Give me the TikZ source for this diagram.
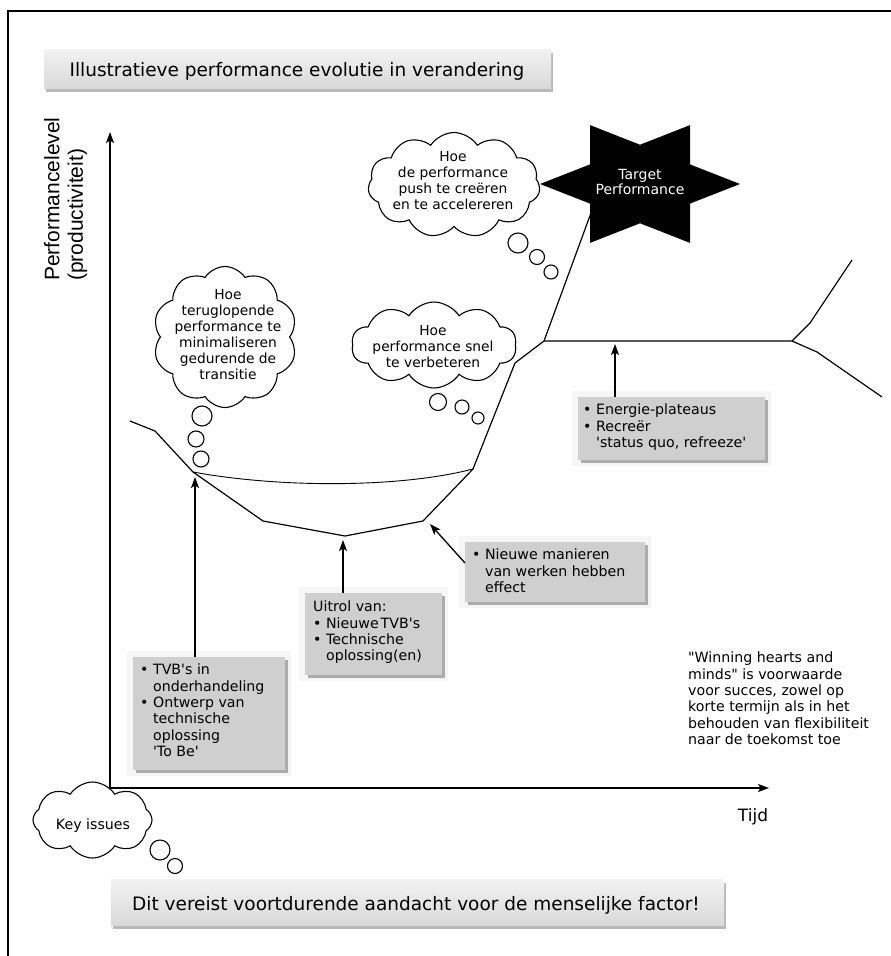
\documentclass[tikz,border=0pt]{standalone}
\usepackage{fontspec}
\newfontfamily\bodyfont{DejaVu Sans}
\newfontfamily\arialfont{Liberation Sans}
\usetikzlibrary{arrows.meta,shapes.symbols,shadows}
\begin{document}
\begin{tikzpicture}[x=1pt,y=-1pt,
  curve/.style={line width=1.2pt, line join=miter},
  thincurve/.style={line width=0.9pt},
  arr/.style={line width=1.3pt, -{Stealth[length=11pt,width=8pt,inset=2.5pt]}},
  axisarrow/.style={line width=1.4pt, -{Stealth[length=11pt,width=8pt,inset=2.5pt]}},
  body/.style={font=\bodyfont\fontsize{14.2}{16.3}\selectfont, inner sep=0pt, align=left, anchor=north west},
  ctext/.style={font=\bodyfont\fontsize{13.8}{16}\selectfont, inner sep=0pt, align=center},
  thought/.style={cloud, cloud puffs=#1, cloud puff arc=115, cloud ignores aspect, draw, line width=1.1pt, fill=white, inner sep=0pt},
  bubble/.style={circle, draw, line width=1.1pt, fill=white, inner sep=0pt, minimum size=#1},
  graybox/.style={fill=gray!38, draw=none, inner sep=0pt, anchor=north west,
     preaction={draw=gray!7, line width=12pt},
     drop shadow={shadow xshift=3pt, shadow yshift=-3pt, fill=gray!65, opacity=1}},
  banner/.style={top color=gray!10, bottom color=gray!30, draw=none, inner sep=0pt,
     drop shadow={shadow xshift=2pt, shadow yshift=-4pt, fill=gray!55, opacity=1}},
  bannertext/.style={font=\bodyfont\fontsize{18.5}{22}\selectfont, inner sep=0pt},
]
\useasboundingbox (0,0) rectangle (891,956);
\fill[white] (0,0) rectangle (891,956);

% frame
\coordinate (fbl) at (8,956);
\coordinate (ftl) at (8,11);
\coordinate (ftr) at (891,11);
\draw[line width=1.5pt] (fbl) -- (ftl) -- (ftr);

% title and bottom banner
\node[banner, minimum width=507pt, minimum height=39pt] (title) at (297.5,68.5) {};
\node[bannertext] (titletext) at (297,71) {Illustratieve performance evolutie in verandering};
\node[banner, minimum width=613pt, minimum height=46pt] (footer) at (417.5,902) {};
\node[bannertext] (footertext) at (416,905) {Dit vereist voortdurende aandacht voor de menselijke factor!};

% axes
\coordinate (origin) at (110,788);
\coordinate (ytop) at (110,132);
\coordinate (xend) at (769,788);
\draw[axisarrow] (origin) -- (ytop);
\draw[axisarrow] (origin) -- (xend);
\node[rotate=90, anchor=north west, align=left, inner sep=0pt, font=\arialfont\fontsize{21}{23.5}\selectfont] (ylab) at (44,281) {Performancelevel\\(productiviteit)};
\node[font=\bodyfont\fontsize{17}{20}\selectfont, inner sep=0pt] (tijd) at (753,817) {Tijd};

% performance curve
\coordinate (c0) at (130,421);
\coordinate (c1) at (155,431);
\coordinate (c2) at (193,472);
\coordinate (c3) at (263,521);
\coordinate (c4) at (345,536);
\coordinate (c5) at (423,521);
\coordinate (c6) at (473,469);
\coordinate (c7) at (515,363);
\coordinate (c8) at (544,341);
\coordinate (c9) at (595,202);
\coordinate (p1) at (792,341);
\coordinate (u1) at (810,323);
\coordinate (u2) at (852,260);
\coordinate (l1) at (817,352);
\coordinate (l2) at (882,397);
\draw[curve] (c0) -- (c1) -- (c2) -- (c3) -- (c4) -- (c5) -- (c6) -- (c7) -- (c8) -- (c9);
\draw[curve] (c8) -- (p1) -- (u1) -- (u2);
\draw[curve] (p1) -- (l1) -- (l2);
\draw[thincurve] (c2) .. controls (280,488) and (400,488) .. (c6);

% target star
\fill[black] (740,184) -- (690,164.4) -- (690,125.1) -- (640,144.7) -- (590,125.1) -- (590,164.4)
  -- (540,184) -- (590,203.6) -- (590,242.9) -- (640,223.3) -- (690,242.9) -- (690,203.6) -- cycle;
\node[ctext, text=white, font=\bodyfont\fontsize{14}{15.5}\selectfont] (target) at (640,182) {Target\\Performance};

% thought clouds
\node[thought=11, minimum width=172pt, minimum height=105pt] (cloudA) at (454,185) {};
\node[ctext] (cloudAtext) at (453,181) {Hoe\\de performance\\push te creëren\\en te accelereren};
\node[bubble=20pt] (bA1) at (518,243) {};
\node[bubble=15pt] (bA2) at (537,257) {};
\node[bubble=14pt] (bA3) at (551,272) {};

\node[thought=10, minimum width=144pt, minimum height=141pt] (cloudB) at (225,337) {};
\node[ctext] (cloudBtext) at (228,335) {Hoe\\teruglopende\\performance te\\minimaliseren\\gedurende de\\transitie};
\node[bubble=20pt] (bB1) at (202,416) {};
\node[bubble=16pt] (bB2) at (196,439) {};
\node[bubble=16pt] (bB3) at (201,459) {};

\node[thought=10, minimum width=165pt, minimum height=86pt] (cloudC) at (434,345) {};
\node[ctext] (cloudCtext) at (433,347) {Hoe\\performance snel\\te verbeteren};
\node[bubble=17pt] (bC1) at (438,402) {};
\node[bubble=14pt] (bC2) at (462,407) {};
\node[bubble=12pt] (bC3) at (478,418) {};

\node[thought=8, minimum width=119pt, minimum height=76pt] (cloudK) at (92.5,820) {};
\node[font=\bodyfont\fontsize{14.2}{16}\selectfont, inner sep=0pt] (cloudKtext) at (93,826) {Key issues};
\node[bubble=20pt] (bK1) at (160,850) {};
\node[bubble=15pt] (bK2) at (175,866) {};

% gray boxes
\node[graybox, minimum width=152pt, minimum height=113pt] (tvb) at (133,657) {};
\node[body] (tvbtext) at (140,664) {• TVB's in\\\phantom{• }onderhandeling\\• Ontwerp van\\\phantom{• }technische\\\phantom{• }oplossing\\\phantom{• }'To Be'};

\node[graybox, minimum width=137pt, minimum height=82pt] (uitrol) at (305,593) {};
\node[body] (uitroltext) at (313,601) {Uitrol van:\\• Nieuwe\hspace{2pt}TVB's\\• Technische\\\phantom{• }oplossing(en)};

\node[graybox, minimum width=180pt, minimum height=60pt] (nieuwe) at (465,542) {};
\node[body] (nieuwetext) at (472,549) {• Nieuwe manieren\\\phantom{• }van werken hebben\\\phantom{• }effect};

\node[graybox, minimum width=187pt, minimum height=63pt] (energie) at (578,397) {};
\node[body] (energietext) at (583,404) {• Energie-plateaus\\• Recreër\\\phantom{• }'status quo, refreeze'};

% arrows from boxes to the curve
\coordinate (tvbtip) at (195,477);
\coordinate (uitroltip) at (343,540);
\coordinate (nieuwetip) at (430,524);
\coordinate (energietip) at (615,344);
\draw[arr] (tvb.north -| tvbtip) -- (tvbtip);
\draw[arr] (uitrol.north -| uitroltip) -- (uitroltip);
\draw[arr] ([yshift=-21pt]nieuwe.north west) -- (nieuwetip);
\draw[arr] (energie.north -| energietip) -- (energietip);

% right note
\node[body] (note) at (688,652) {"Winning hearts and\\minds" is voorwaarde\\voor succes, zowel op\\korte termijn als in het\\behouden van flexibiliteit\\naar de toekomst toe};
\end{tikzpicture}
\end{document}
